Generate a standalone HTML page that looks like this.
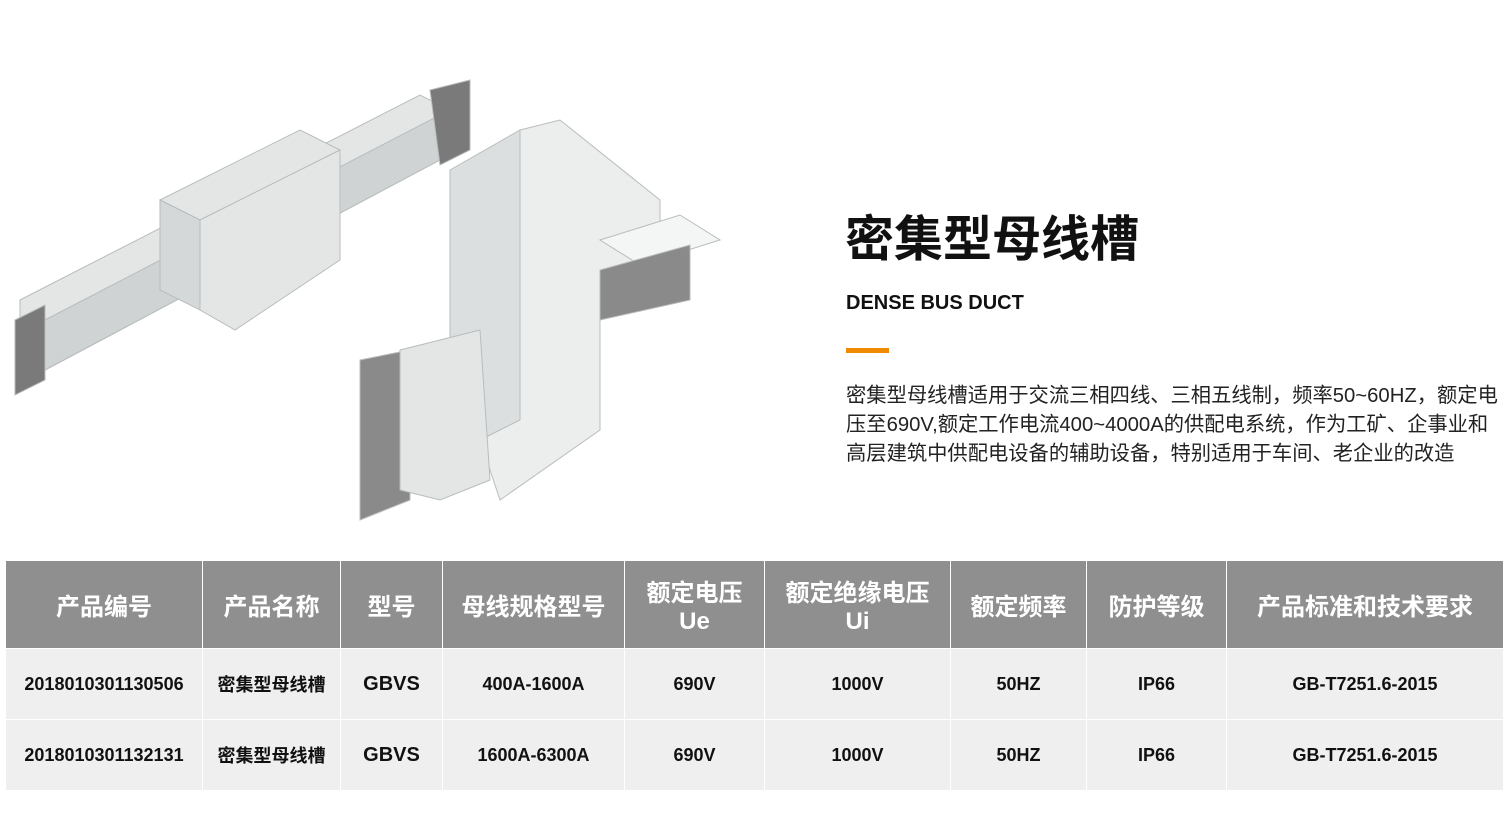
<!DOCTYPE html>
<html><head><meta charset="utf-8"><style>
body{margin:0;width:1510px;height:822px;background:#fff;position:relative;overflow:hidden;font-family:"Liberation Sans","Noto Sans CJK SC",sans-serif}
.t{position:absolute}
table{position:absolute;left:5px;top:560px;border-collapse:collapse;width:1498px;table-layout:fixed}
td,th{border:1px solid #fff;text-align:center;padding:0;font-weight:bold}
th{background:#8f8f8f;color:#fff;font-size:24px;height:81px;line-height:28px;padding-top:6px}
td{background:#efefef;color:#111;font-size:18px;height:70px}
</style></head><body>
<svg class="t" style="left:0;top:0" width="800" height="540">
<g fill="#e4e6e6" stroke="#b8bcbc" stroke-width="1">
<polygon points="20,300 420,95 440,105 440,160 45,370 20,355"/>
<polygon points="45,320 440,115 440,160 45,370" fill="#cfd3d3"/>
<polygon points="160,200 300,130 340,150 200,220"/>
<polygon points="200,220 340,150 340,260 235,330 200,310"/>
<polygon points="160,200 200,220 200,310 160,290" fill="#d5d8d8"/>
<polygon points="15,320 45,305 45,380 15,395" fill="#7a7a7a"/>
<polygon points="430,90 470,80 470,150 440,165" fill="#7a7a7a"/>
<polygon points="450,170 520,130 520,420 480,440 450,420" fill="#dcdfdf"/>
<polygon points="520,130 560,120 660,200 660,230 600,300 600,430 500,500 480,440 520,420" fill="#eceeee"/>
<polygon points="600,240 680,215 720,240 640,265" fill="#f4f5f5"/>
<polygon points="600,270 690,245 690,300 600,320" fill="#8a8a8a"/>
<polygon points="360,360 410,350 410,500 360,520" fill="#8a8a8a"/>
<polygon points="400,350 480,330 490,480 440,500 400,490"/>
</g>
</svg>
<div class="t" style="left:845px;top:200px;font-size:49px;font-weight:bold;color:#111">密集型母线槽</div>
<div class="t" style="left:846px;top:292px;font-size:20px;font-weight:bold;color:#111">DENSE BUS DUCT</div>
<div class="t" style="left:846px;top:348px;width:43px;height:5px;background:#f08a00"></div>
<div class="t" style="left:846px;top:382px;white-space:nowrap;font-size:20.3px;line-height:29px;color:#222">密集型母线槽适用于交流三相四线、三相五线制，频率50~60HZ，额定电<br>压至690V,额定工作电流400~4000A的供配电系统，作为工矿、企事业和<br>高层建筑中供配电设备的辅助设备，特别适用于车间、老企业的改造</div>
<table>
<colgroup><col style="width:197px"><col style="width:138px"><col style="width:102px"><col style="width:182px"><col style="width:140px"><col style="width:186px"><col style="width:136px"><col style="width:140px"><col style="width:277px"></colgroup>
<tr><th>产品编号</th><th>产品名称</th><th>型号</th><th>母线规格型号</th><th>额定电压<br>Ue</th><th>额定绝缘电压<br>Ui</th><th>额定频率</th><th>防护等级</th><th>产品标准和技术要求</th></tr>
<tr><td>2018010301130506</td><td>密集型母线槽</td><td style="font-size:20px">GBVS</td><td>400A-1600A</td><td>690V</td><td>1000V</td><td>50HZ</td><td>IP66</td><td>GB-T7251.6-2015</td></tr>
<tr><td>2018010301132131</td><td>密集型母线槽</td><td style="font-size:20px">GBVS</td><td>1600A-6300A</td><td>690V</td><td>1000V</td><td>50HZ</td><td>IP66</td><td>GB-T7251.6-2015</td></tr>
</table>
</body></html>
